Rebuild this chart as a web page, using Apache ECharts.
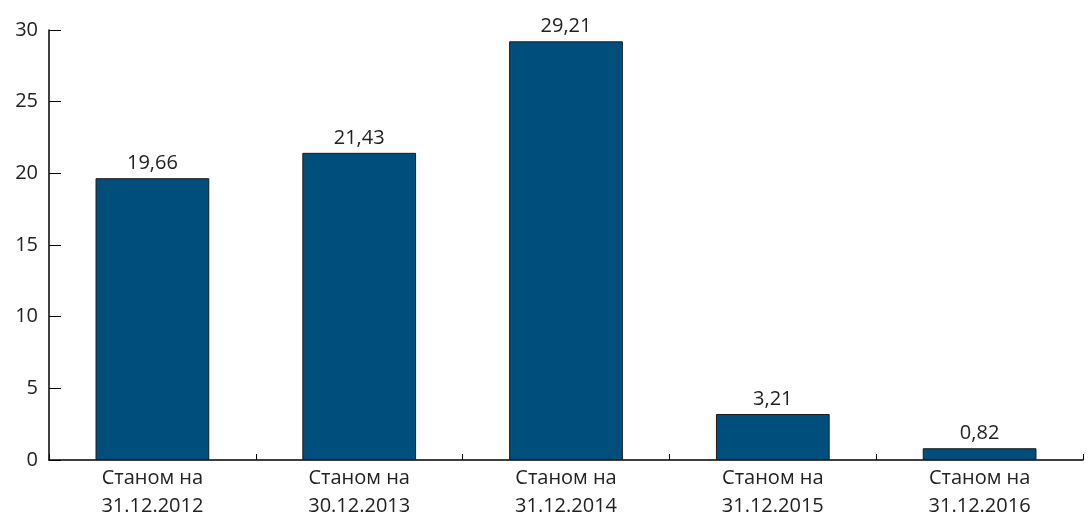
<!DOCTYPE html>
<html>
<head>
<meta charset="utf-8">
<script src="https://cdn.jsdelivr.net/npm/echarts@6/dist/echarts.min.js"></script>
<style>
  html, body { margin: 0; padding: 0; background: #fff; }
  #chart { width: 1089px; height: 516px; }
</style>
</head>
<body>
<div id="chart"></div>
<script>
// Category labels (two lines each)
const categories = [
  'Станом на\n31.12.2012',
  'Станом на\n30.12.2013',
  'Станом на\n31.12.2014',
  'Станом на\n31.12.2015',
  'Станом на\n31.12.2016'
];
// Values for each date
const values = [19.66, 21.43, 29.21, 3.21, 0.82];

const fontFamily = '"Open Sans", "Noto Sans", sans-serif';
const textColor = '#222';

const chart = echarts.init(document.getElementById('chart'));
chart.setOption({
  animation: false,
  grid: { left: 49, right: 6, top: 30, bottom: 56, containLabel: false, outerBoundsMode: 'none' },
  xAxis: {
    type: 'category',
    data: categories,
    axisLine: { lineStyle: { color: '#000', width: 1.5 } },
    axisTick: { show: true, inside: true, length: 6, alignWithLabel: false, lineStyle: { color: '#000' } },
    axisLabel: { color: textColor, fontFamily, fontSize: 20, lineHeight: 28, margin: 4 },
    splitLine: { show: false }
  },
  yAxis: {
    type: 'value',
    min: 0,
    max: 30,
    interval: 5,
    axisLine: { show: true, lineStyle: { color: '#000', width: 1.5 } },
    axisTick: { show: true, inside: true, length: 12, lineStyle: { color: '#000' } },
    axisLabel: { color: textColor, fontFamily, fontSize: 20, margin: 11 },
    splitLine: { show: false }
  },
  series: [{
    type: 'bar',
    data: values,
    barWidth: '55%',
    itemStyle: { color: '#004e7c', borderColor: '#1a1a1a', borderWidth: 1 },
    label: {
      show: true,
      position: 'top',
      distance: 5,
      color: textColor,
      fontFamily,
      fontSize: 20,
      formatter: p => p.value.toFixed(2).replace('.', ',')
    }
  }]
});
</script>
</body>
</html>
